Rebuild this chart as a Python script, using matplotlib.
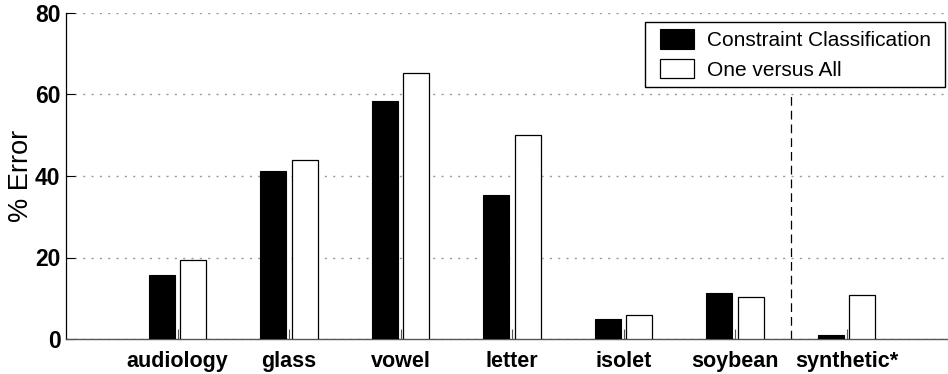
import matplotlib
matplotlib.use("Agg")
import matplotlib.pyplot as plt
from matplotlib.patches import Rectangle
import numpy as np

# Classification error (%) per dataset
datasets = ["audiology", "glass", "vowel", "letter", "isolet", "soybean", "synthetic*"]
constraint_err = [15.7, 41.2, 58.4, 35.3, 4.8, 11.4, 1.0]
ova_err = [19.3, 43.9, 65.2, 50.1, 6.0, 10.2, 10.7]
series_names = ["Constraint Classification", "One versus All"]
y_ticks = [0, 20, 40, 60, 80]

plt.rcParams["font.family"] = ["Liberation Sans", "DejaVu Sans"]

fig = plt.figure(figsize=(9.48, 3.74), dpi=100)
ax = fig.add_axes([66 / 948, 35 / 374, 882 / 948, 326 / 374])

x = np.arange(1, len(datasets) + 1)
w = 0.235
off = 0.142
b1 = ax.bar(x - off, constraint_err, width=w, color="black", edgecolor="black",
            linewidth=0.8, zorder=3)
b2 = ax.bar(x + off, ova_err, width=w, color="white", edgecolor="black",
            linewidth=0.9, zorder=3)

# separator between real and synthetic data
ax.plot([6.5, 6.5], [0, 60], color="black", linewidth=0.9,
        dashes=(7, 4), zorder=2)

ax.set_xlim(0, 882 / 111.5)
ax.set_ylim(0, 80)
ax.set_yticks(y_ticks)
ax.set_xticks(x)
ax.set_xticklabels(datasets, fontsize=15.5, fontweight="bold")
ax.set_yticklabels([str(t) for t in y_ticks], fontsize=16.5, fontweight="bold")
ax.set_ylabel("% Error", fontsize=19.5)
ax.yaxis.set_label_coords(-32 / 882, 0.5)

ax.tick_params(axis="y", direction="in", length=6.5, width=0.8, pad=4,
               color="black")
ax.tick_params(axis="x", direction="in", length=7, width=0.8, pad=8.5,
               color="#555555")

ax.grid(axis="y", color="#999999", linewidth=1.0, linestyle=(0, (1.5, 4.5)),
        zorder=1)
ax.set_axisbelow(True)

for s in ["top", "right"]:
    ax.spines[s].set_visible(False)
ax.spines["left"].set_color("black")
ax.spines["left"].set_linewidth(0.9)
ax.spines["bottom"].set_color("#555555")
ax.spines["bottom"].set_linewidth(1.0)

# legend box
fig.patches.append(Rectangle((645 / 948, 1 - 87 / 374), 300 / 948, 65 / 374,
                             transform=fig.transFigure, facecolor="white",
                             edgecolor="black", linewidth=1.0, zorder=4))
pad_px = 0.35 * 15 * 100 / 72
leg = fig.legend([b1, b2], series_names, loc="upper left",
                 bbox_to_anchor=((660 - pad_px) / 948, 1 - 22 / 374),
                 fontsize=15, frameon=False,
                 handlelength=1.65, handleheight=1.05, handletextpad=0.6,
                 labelspacing=0.42, borderpad=0.35, borderaxespad=0)
leg.set_zorder(5)

fig.savefig("out.png", dpi=100)
